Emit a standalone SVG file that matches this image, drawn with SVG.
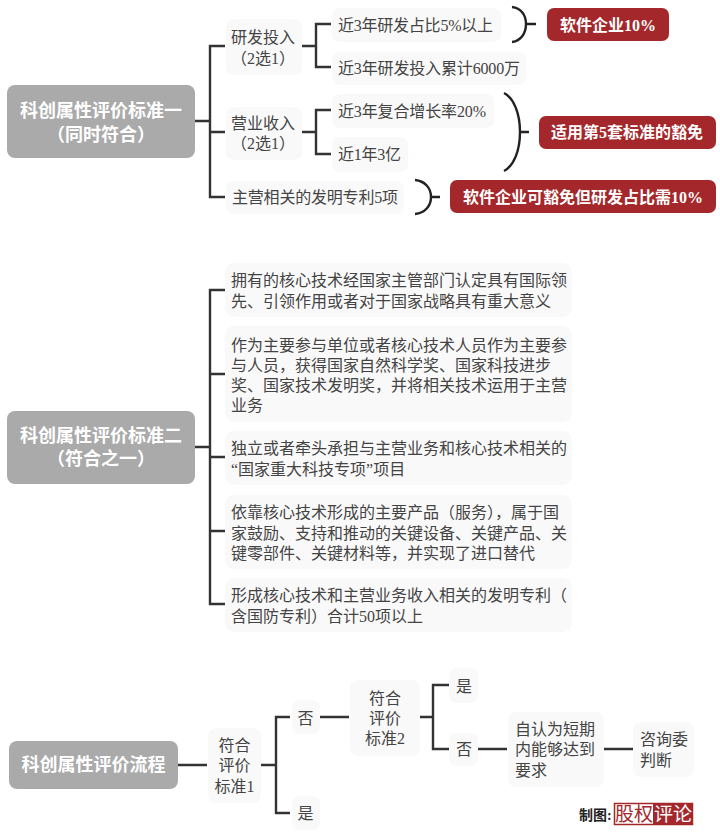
<svg xmlns="http://www.w3.org/2000/svg" width="720" height="837" viewBox="0 0 720 837">
<style>
text{font-family:"Liberation Serif","Noto Sans CJK SC",serif;font-size:16px;fill:#444}
.c{text-anchor:middle}
.box{fill:#f9f9f9}
.root{fill:#aaaaaa}
.rt{font-size:18px;font-weight:700;fill:#fff;text-anchor:middle}
.red{fill:#a4282b}
.rd{font-size:16px;font-weight:700;fill:#fff;text-anchor:middle}
.ln{fill:none;stroke:#333;stroke-width:2.4}
.br{fill:none;stroke:#222;stroke-width:2.4}
</style>
<rect width="720" height="837" fill="#fff"/>
<g id="connectors" class="ln">
<path d="M195 121H210M225 46H210V197H225M210 132H225"/>
<path d="M302 46H316M331 24H316V67H331"/>
<path d="M302 132H316M331 110H316V154H331"/>
<path class="br" d="M512 7C521 8 526 15 526 24C526 33 521 41 512 42M526 24H536"/>
<path class="br" d="M504 93C514 98 520 114 520 132C520 150 514 166 504 171M520 132H529"/>
<path class="br" d="M415 180C425 181 431 188 431 197C431 206 425 213 415 214M431 197H440"/>
<path d="M195 447H210M225 290H210V604H225M210 374H225M210 457H225M210 531H225"/>
<path d="M178 765H207M261 765H276M290 717H276V813H290M320 717H349M420 717H433M449 685H433V749H449M478 749H507M604 749H633"/>
</g>
<g id="root1"><rect class="root" x="7" y="85" width="188" height="73" rx="8"/><text class="rt" x="101" y="117">科创属性评价标准一</text><text class="rt" x="101" y="141">（同时符合）</text></g>
<g id="n-rd"><rect class="box" x="226" y="19" width="76" height="56" rx="8"/><text class="c" x="263" y="43">研发投入</text><text class="c" x="263" y="64">（2选1）</text></g>
<g id="n-rev"><rect class="box" x="226" y="107" width="76" height="53" rx="8"/><text class="c" x="263" y="129">营业收入</text><text class="c" x="263" y="149">（2选1）</text></g>
<g id="n-pat"><rect class="box" x="226" y="181" width="178" height="33" rx="8"/><text x="232" y="203" textLength="166">主营相关的发明专利5项</text></g>
<g id="l1"><rect class="box" x="332" y="8" width="169" height="34" rx="8"/><text x="338" y="31" textLength="155">近3年研发占比5%以上</text></g>
<g id="l2"><rect class="box" x="332" y="52" width="194" height="33" rx="8"/><text x="338" y="74" textLength="182">近3年研发投入累计6000万</text></g>
<g id="l3"><rect class="box" x="332" y="94" width="162" height="34" rx="8"/><text x="338" y="117" textLength="148">近3年复合增长率20%</text></g>
<g id="l4"><rect class="box" x="332" y="137" width="76" height="35" rx="8"/><text x="338" y="160" textLength="63">近1年3亿</text></g>
<g id="r1"><rect class="red" x="547" y="8" width="122" height="33" rx="7"/><text class="rd" x="608" y="31">软件企业10%</text></g>
<g id="r2"><rect class="red" x="539" y="116" width="177" height="33" rx="7"/><text class="rd" x="627" y="138">适用第5套标准的豁免</text></g>
<g id="r3"><rect class="red" x="450" y="180" width="266" height="33" rx="7"/><text class="rd" x="583" y="203">软件企业可豁免但研发占比需10%</text></g>

<g id="root2"><rect class="root" x="7" y="411" width="188" height="73" rx="8"/><text class="rt" x="101" y="442">科创属性评价标准二</text><text class="rt" x="101" y="465">（符合之一）</text></g>
<g id="s1"><rect class="box" x="225" y="263" width="347" height="54" rx="9"/><text x="231" y="286">拥有的核心技术经国家主管部门认定具有国际领</text><text x="231" y="307">先、引领作用或者对于国家战略具有重大意义</text></g>
<g id="s2"><rect class="box" x="225" y="326" width="347" height="96" rx="9"/><text x="231" y="351">作为主要参与单位或者核心技术人员作为主要参</text><text x="231" y="371">与人员，获得国家自然科学奖、国家科技进步</text><text x="231" y="391">奖、国家技术发明奖，并将相关技术运用于主营</text><text x="231" y="411">业务</text></g>
<g id="s3"><rect class="box" x="225" y="431" width="347" height="54" rx="9"/><text x="231" y="454">独立或者牵头承担与主营业务和核心技术相关的</text><text x="231" y="475">“国家重大科技专项”项目</text></g>
<g id="s4"><rect class="box" x="225" y="495" width="347" height="74" rx="9"/><text x="231" y="518">依靠核心技术形成的主要产品（服务），属于国</text><text x="231" y="539">家鼓励、支持和推动的关键设备、关键产品、关</text><text x="231" y="559">键零部件、关键材料等，并实现了进口替代</text></g>
<g id="s5"><rect class="box" x="225" y="578" width="347" height="54" rx="9"/><text x="231" y="601">形成核心技术和主营业务收入相关的发明专利（</text><text x="231" y="622">含国防专利）合计50项以上</text></g>

<g id="root3"><rect class="root" x="9" y="741" width="169" height="48" rx="8"/><text class="rt" x="93.500" y="771">科创属性评价流程</text></g>
<g id="f1"><rect class="box" x="208" y="728" width="53" height="75" rx="8"/><text class="c" x="234.500" y="751">符合</text><text class="c" x="234.500" y="771">评价</text><text class="c" x="234.500" y="792">标准1</text></g>
<g id="no1"><rect class="box" x="292" y="700" width="28" height="34" rx="8"/><text class="c" x="305.500" y="724">否</text></g>
<g id="yes1"><rect class="box" x="292" y="796" width="28" height="34" rx="8"/><text class="c" x="305.500" y="819">是</text></g>
<g id="f2"><rect class="box" x="350" y="680" width="70" height="76" rx="8"/><text class="c" x="385" y="704">符合</text><text class="c" x="385" y="724">评价</text><text class="c" x="385" y="744">标准2</text></g>
<g id="yes2"><rect class="box" x="449" y="668" width="29" height="35" rx="8"/><text class="c" x="464" y="692">是</text></g>
<g id="no2"><rect class="box" x="449" y="733" width="29" height="33" rx="8"/><text class="c" x="464" y="755">否</text></g>
<g id="self"><rect class="box" x="508" y="712" width="96" height="75" rx="8"/><text x="515" y="735">自认为短期</text><text x="515" y="755">内能够达到</text><text x="515" y="776">要求</text></g>
<g id="ask"><rect class="box" x="633" y="722" width="61" height="55" rx="8"/><text x="640" y="745">咨询委</text><text x="640" y="766">判断</text></g>
<g id="credit"><text x="579" y="820" style="font-size:14px;font-weight:700;fill:#222">制图:</text>
<rect x="614.500" y="803.500" width="78" height="21" fill="#fff" stroke="#a4282b" stroke-width="1.500"/><rect x="653" y="803" width="40" height="22" fill="#a4282b"/>
<text x="615" y="821" style="font-size:19px;fill:#a4282b">股权</text><text x="654" y="821" style="font-size:19px;fill:#fff">评论</text></g>
</svg>
